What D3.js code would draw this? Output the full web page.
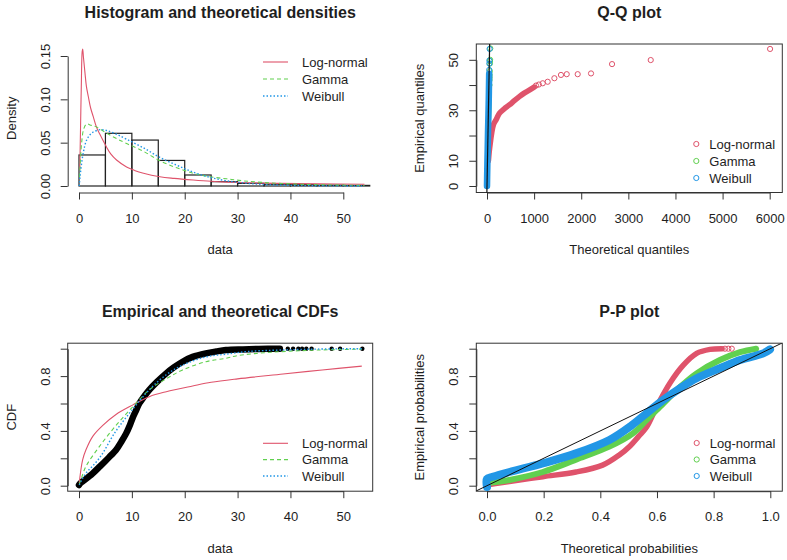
<!DOCTYPE html>
<html lang="en">
<head>
<meta charset="utf-8">
<title>Goodness-of-fit plots</title>
<script src="https://cdn.jsdelivr.net/npm/d3@7"></script>
<style>
  body { margin: 0; background: #fff; font-family: "Liberation Sans", Arial, sans-serif; }
  svg text { fill: #1e1e1e; }
  .title { font-size: 16px; font-weight: bold; }
  .lab, .tick text, .leg { font-size: 13px; }
</style>
</head>
<body>
<svg id="chart" width="787" height="560"></svg>
<script>
// ---- values ----
const fitNames = ["Log-normal", "Gamma", "Weibull"];
const fitColors = ["#DF536B", "#61D04F", "#2297E6"];
const fitDash = [null, "4,3", "1.5,2"];

// histogram
const binEdges = [0, 5, 10, 15, 20, 25, 30, 35, 40, 45, 50, 55];
const binDensity = [0.0358, 0.0608, 0.053, 0.0295, 0.0127, 0.005, 0.003, 0.002, 0.0015, 0.001, 0.0007];

// theoretical densities [x, density]
const lnormDens = [[0.15, 0.02], [0.3, 0.07], [0.45, 0.12], [0.6, 0.155], [0.7, 0.158], [0.85, 0.148], [1.14, 0.13],
  [1.4, 0.115], [1.77, 0.103], [2.2, 0.09], [2.7, 0.08], [3.3, 0.068], [4, 0.059], [5.2, 0.045], [6, 0.037],
  [7.1, 0.03], [9, 0.022], [10.5, 0.018], [12.2, 0.0147], [15.3, 0.0107], [18, 0.0088], [21.6, 0.0069],
  [25, 0.0054], [27.9, 0.0045], [32, 0.0037], [38, 0.003], [45, 0.0025], [54, 0.002]];
const gammaDens = [[0.1, 0.01], [0.2, 0.022], [0.5, 0.05], [0.9, 0.066], [1.45, 0.0716], [2.3, 0.07], [3.35, 0.068],
  [5.2, 0.061], [7, 0.055], [9, 0.049], [12.2, 0.04], [15.3, 0.029], [18.5, 0.021], [21.6, 0.0147],
  [24.8, 0.0107], [27.9, 0.0083], [31, 0.006], [35, 0.004], [40, 0.0025], [45, 0.0015], [54, 0.0006]];
const weibullDens = [[0.05, 0.0], [0.2, 0.011], [0.8, 0.038], [1.45, 0.053], [2.4, 0.061], [4, 0.065], [5.2, 0.064],
  [7, 0.06], [9, 0.054], [12.2, 0.044], [15.3, 0.033], [18.5, 0.024], [21.6, 0.016], [24.8, 0.01],
  [27.9, 0.006], [32, 0.003], [36, 0.0014], [42, 0.0005], [50, 0.0001], [54, 0.00005]];

// Q-Q plot [theoretical, empirical]
const lnormQQBand = [[30, 10], [50, 14], [70, 17], [100, 21], [140, 24.5], [200, 26.5], [262, 28.8], [360, 30.5],
  [474, 32.1], [580, 33.8], [686, 35.4], [790, 36.8], [898, 38], [1000, 39.2]];
const lnormQQPts = [[1040, 39.8], [1100, 40.2], [1183, 40.7], [1288, 41.3], [1430, 42.7], [1570, 44], [1692, 44.3],
  [1925, 44.3], [2208, 44.6], [2654, 48.3], [3475, 49.9], [6008, 54.3]];
const gammaQQBand = [[0, 0], [10, 8], [20, 17], [30, 24], [40, 30], [48, 36], [52, 40]];
const gammaQQPts = [[52, 40], [54, 42], [55, 43], [56, 44], [60, 45.5], [62, 48.5], [63, 49.5], [66, 50], [70, 54.5]];
const weibullQQBand = [[0, 0], [3, 4], [8, 9], [15, 15], [22, 22], [30, 28], [38, 35], [44, 42], [46, 44.5]];
const weibullQQPts = [[47, 46], [49, 48.5], [50, 49.7], [55, 54.3]];

// CDFs [x, F]
const ecdfBand = [[0, 0.005], [0.3, 0.02], [1, 0.04], [2, 0.07], [2.6, 0.09], [3.8, 0.135], [5, 0.18], [6, 0.22],
  [7, 0.26], [8, 0.32], [8.9, 0.38], [9.6, 0.44], [10.2, 0.5], [10.8, 0.55], [11.4, 0.6], [12.3, 0.65],
  [13.3, 0.7], [14.8, 0.76], [16.5, 0.82], [18, 0.865], [19.6, 0.905], [21.5, 0.94], [24, 0.966],
  [26, 0.98], [27.8, 0.99], [31, 0.995], [34, 0.998], [38, 1]];
const ecdfPts = [[39.5, 1], [40.5, 1], [41.5, 1], [42.2, 1], [43, 1], [44, 1], [47.8, 1], [49.4, 1], [53.6, 1]];
const lnormCdf = [[0.05, 0.02], [0.3, 0.1], [0.7, 0.19], [1.3, 0.26], [2.6, 0.36], [4.5, 0.44], [7, 0.52],
  [10.2, 0.59], [13.3, 0.65], [16.5, 0.686], [21.5, 0.728], [25, 0.755], [30, 0.78], [38.6, 0.815],
  [46, 0.845], [53.5, 0.873]];
const gammaCdf = [[0.05, 0.01], [0.5, 0.06], [1.3, 0.14], [3.84, 0.285], [7, 0.44], [10.2, 0.577], [13.3, 0.7],
  [16.5, 0.78], [19.6, 0.845], [24, 0.905], [27.8, 0.93], [30, 0.95], [35, 0.97], [40, 0.982], [45, 0.99], [53.5, 0.997]];
const weibullCdf = [[0.05, 0.005], [0.5, 0.04], [1.3, 0.09], [3.84, 0.2], [7, 0.4], [10.2, 0.56], [13.3, 0.7],
  [16.5, 0.81], [19.6, 0.88], [24, 0.94], [27.8, 0.96], [32, 0.98], [38, 0.99], [45, 0.997], [53.5, 1.0]];

// P-P plot [theoretical, empirical]
const lnormPP = [[0, 0.005], [0.03, 0.015], [0.079, 0.03], [0.197, 0.066], [0.314, 0.1], [0.408, 0.15],
  [0.467, 0.224], [0.505, 0.29], [0.535, 0.36], [0.564, 0.43], [0.599, 0.577], [0.646, 0.75], [0.693, 0.88],
  [0.74, 0.966], [0.787, 0.995], [0.83, 1.0]];
const lnormPPPts = [[0.84, 1], [0.852, 1], [0.864, 1]];
const gammaPP = [[0, 0.02], [0.079, 0.042], [0.197, 0.1], [0.314, 0.19], [0.432, 0.285], [0.514, 0.38],
  [0.564, 0.48], [0.622, 0.6], [0.681, 0.72], [0.74, 0.82], [0.822, 0.917], [0.893, 0.975], [0.95, 1.0]];
const weibullPP = [[0, -0.01], [0, 0.05], [0.02, 0.065], [0.079, 0.1], [0.197, 0.163], [0.314, 0.236],
  [0.432, 0.334], [0.51, 0.44], [0.564, 0.53], [0.622, 0.625], [0.681, 0.71], [0.74, 0.784], [0.822, 0.857],
  [0.893, 0.917], [0.975, 0.966], [0.999, 0.995]];

// ---- layout ----
const svg = d3.select("#chart");
const leftX = [67.7, 372.7], rightX = [476.3, 782.3];
const topY = [44, 192.5], botY = [343.2, 491.2];

const xData = d3.scaleLinear().domain([0, 50]).range([79, 343.3]);
const yDens = d3.scaleLinear().domain([0, 0.15]).range([186, 56]);
const xQQ = d3.scaleLinear().domain([0, 6000]).range([487, 769.7]);
const yQQ = d3.scaleLinear().domain([0, 50]).range([186, 59.8]);
const yProb = d3.scaleLinear().domain([0, 1]).range([485.7, 348.7]);
const xProb = d3.scaleLinear().domain([0, 1]).range([487, 770.3]);

function clipFor(id, xr, yr) {
  svg.append("clipPath").attr("id", id).append("rect")
    .attr("x", xr[0]).attr("y", yr[0]).attr("width", xr[1] - xr[0]).attr("height", yr[1] - yr[0]);
}

function frame(xr, yr, title, xlab, ylab, box) {
  const cx = (xr[0] + xr[1]) / 2, cy = (yr[0] + yr[1]) / 2;
  svg.append("text").attr("class", "title").attr("x", cx).attr("y", yr[0] - 26)
    .attr("text-anchor", "middle").text(title);
  svg.append("text").attr("class", "lab").attr("x", cx).attr("y", yr[1] + 61.5)
    .attr("text-anchor", "middle").text(xlab);
  svg.append("text").attr("class", "lab").attr("text-anchor", "middle")
    .attr("transform", `translate(${xr[0] - 52},${cy}) rotate(-90)`).text(ylab);
  if (box) {
    svg.append("rect").attr("x", xr[0]).attr("y", yr[0]).attr("width", xr[1] - xr[0]).attr("height", yr[1] - yr[0])
      .attr("fill", "none").attr("stroke", "#333").attr("stroke-width", 1);
  }
}

function axes(xr, yr, xs, xticks, xfmt, ys, yticks, yfmt) {
  const gx = svg.append("g").attr("class", "tick").attr("transform", `translate(0,${yr[1]})`)
    .call(d3.axisBottom(xs).tickValues(xticks).tickFormat(xfmt).tickSize(7).tickSizeOuter(0));
  gx.selectAll("text").attr("y", 30).attr("dy", 0);
  const gy = svg.append("g").attr("class", "tick").attr("transform", `translate(${xr[0]},0)`)
    .call(d3.axisLeft(ys).tickValues(yticks).tickFormat(yfmt).tickSize(7).tickSizeOuter(0));
  gy.selectAll("text").attr("x", 0).attr("dy", 0).attr("text-anchor", "middle")
    .attr("transform", "translate(-18,0) rotate(-90)");
  svg.selectAll(".tick path, .tick line").attr("stroke", "#333");
  svg.selectAll(".tick text").attr("fill", "#1e1e1e").style("font-family", "'Liberation Sans', Arial, sans-serif");
}

function lineLegend(x, ys) {
  fitNames.forEach((n, i) => {
    svg.append("line").attr("x1", x).attr("x2", x + 25).attr("y1", ys[i]).attr("y2", ys[i])
      .attr("stroke", fitColors[i]).attr("stroke-width", i === 2 ? 1.4 : 1.1).attr("stroke-dasharray", fitDash[i]);
    svg.append("text").attr("class", "leg").attr("x", x + 39).attr("y", ys[i]).attr("dy", "0.35em").text(n);
  });
}

function pointLegend(x, ys) {
  fitNames.forEach((n, i) => {
    svg.append("circle").attr("cx", x).attr("cy", ys[i]).attr("r", 2.6)
      .attr("fill", "none").attr("stroke", fitColors[i]).attr("stroke-width", 1);
    svg.append("text").attr("class", "leg").attr("x", x + 13).attr("y", ys[i]).attr("dy", "0.35em").text(n);
  });
}

const curve = d3.curveCatmullRom.alpha(0.5);

// ---- 1. histogram and theoretical densities ----
frame(leftX, topY, "Histogram and theoretical densities", "data", "Density", false);
axes(leftX, topY, xData, [0, 10, 20, 30, 40, 50], d3.format("d"), yDens, [0, 0.05, 0.1, 0.15], d3.format(".2f"));
svg.append("g").selectAll("rect").data(binDensity).join("rect")
  .attr("x", (d, i) => xData(binEdges[i])).attr("width", (d, i) => xData(binEdges[i + 1]) - xData(binEdges[i]))
  .attr("y", d => yDens(d)).attr("height", d => yDens(0) - yDens(d))
  .attr("fill", "none").attr("stroke", "#222").attr("stroke-width", 1.2);
const densLine = d3.line().x(d => xData(d[0])).y(d => yDens(d[1])).curve(curve);
[lnormDens, gammaDens, weibullDens].forEach((s, i) => {
  svg.append("path").attr("d", densLine(s)).attr("fill", "none").attr("stroke", fitColors[i])
    .attr("stroke-width", i === 2 ? 1.4 : 1.1).attr("stroke-dasharray", fitDash[i]);
});
lineLegend(263, [62, 79, 96]);

// ---- 2. Q-Q plot ----
clipFor("clipQQ", rightX, topY);
frame(rightX, topY, "Q-Q plot", "Theoretical quantiles", "Empirical quantiles", true);
axes(rightX, topY, xQQ, d3.range(0, 6001, 1000), d3.format("d"), yQQ, [0, 10, 20, 30, 40, 50],
  d => [0, 10, 30, 50].includes(d) ? d : "");
const qq = svg.append("g").attr("clip-path", "url(#clipQQ)");
const qqLine = d3.line().x(d => xQQ(d[0])).y(d => yQQ(d[1])).curve(curve);
[[lnormQQBand, lnormQQPts, 5.5], [gammaQQBand, gammaQQPts, 5], [weibullQQBand, weibullQQPts, 6.5]].forEach((s, i) => {
  qq.append("path").attr("d", qqLine(s[0])).attr("fill", "none").attr("stroke", fitColors[i])
    .attr("stroke-width", s[2]).attr("stroke-linecap", "round");
  qq.append("g").selectAll("circle").data(s[1]).join("circle")
    .attr("cx", d => xQQ(d[0])).attr("cy", d => yQQ(d[1])).attr("r", 2.6)
    .attr("fill", "none").attr("stroke", fitColors[i]).attr("stroke-width", 1);
});
qq.append("line").attr("x1", xQQ(-3)).attr("y1", yQQ(-3)).attr("x2", xQQ(57)).attr("y2", yQQ(57))
  .attr("stroke", "#111").attr("stroke-width", 1.2);
pointLegend(696.3, [144, 161, 178]);

// ---- 3. empirical and theoretical CDFs ----
clipFor("clipCDF", leftX, botY);
frame(leftX, botY, "Empirical and theoretical CDFs", "data", "CDF", true);
axes(leftX, botY, xData, [0, 10, 20, 30, 40, 50], d3.format("d"), yProb, [0, 0.2, 0.4, 0.6, 0.8, 1],
  d => [0, 0.4, 0.8].includes(d) ? d3.format(".1f")(d) : "");
const cdf = svg.append("g").attr("clip-path", "url(#clipCDF)");
const cdfLine = d3.line().x(d => xData(d[0])).y(d => yProb(d[1])).curve(curve);
cdf.append("path").attr("d", cdfLine(ecdfBand)).attr("fill", "none").attr("stroke", "#000")
  .attr("stroke-width", 6.5).attr("stroke-linecap", "round");
cdf.append("g").selectAll("circle").data(ecdfPts).join("circle")
  .attr("cx", d => xData(d[0])).attr("cy", d => yProb(d[1])).attr("r", 2.2).attr("fill", "#000");
[lnormCdf, gammaCdf, weibullCdf].forEach((s, i) => {
  cdf.append("path").attr("d", cdfLine(s)).attr("fill", "none").attr("stroke", fitColors[i])
    .attr("stroke-width", i === 2 ? 1.4 : 1.1).attr("stroke-dasharray", fitDash[i]);
});
lineLegend(263, [443.3, 459.6, 476]);

// ---- 4. P-P plot ----
clipFor("clipPP", rightX, botY);
frame(rightX, botY, "P-P plot", "Theoretical probabilities", "Empirical probabilities", true);
axes(rightX, botY, xProb, [0, 0.2, 0.4, 0.6, 0.8, 1], d3.format(".1f"), yProb, [0, 0.2, 0.4, 0.6, 0.8, 1],
  d => [0, 0.4, 0.8].includes(d) ? d3.format(".1f")(d) : "");
const pp = svg.append("g").attr("clip-path", "url(#clipPP)");
const ppLine = d3.line().x(d => xProb(d[0])).y(d => yProb(d[1])).curve(curve);
[[lnormPP, 5.5], [gammaPP, 6], [weibullPP, 8]].forEach((s, i) => {
  pp.append("path").attr("d", ppLine(s[0])).attr("fill", "none").attr("stroke", fitColors[i])
    .attr("stroke-width", s[1]).attr("stroke-linecap", "round");
});
pp.append("g").selectAll("circle").data(lnormPPPts).join("circle")
  .attr("cx", d => xProb(d[0])).attr("cy", d => yProb(d[1])).attr("r", 2.6)
  .attr("fill", "none").attr("stroke", fitColors[0]).attr("stroke-width", 1);
pp.append("line").attr("x1", xProb(-0.1)).attr("y1", yProb(-0.1)).attr("x2", xProb(1.1)).attr("y2", yProb(1.1))
  .attr("stroke", "#111").attr("stroke-width", 1);
pointLegend(696.7, [443, 459.5, 476]);
</script>
</body>
</html>
